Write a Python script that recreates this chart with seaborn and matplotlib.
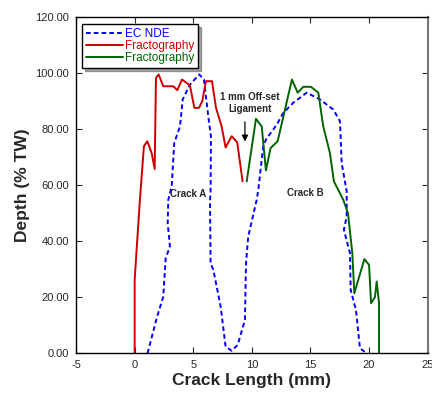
import numpy as np
import pandas as pd
import matplotlib
matplotlib.use('Agg')
import matplotlib.pyplot as plt
import seaborn as sns

# ------------------------------------------------------------
# data (crack length mm, depth % TW)
# ------------------------------------------------------------
ec_x = [1.10, 1.88, 2.44, 2.65, 3.01, 2.82, 2.87, 3.16, 3.38, 3.87, 4.10, 4.72,
        5.51, 5.91, 6.28, 6.51, 6.48, 6.43, 6.48, 6.71, 7.00, 7.34, 7.76, 8.28,
        8.79, 9.41, 9.50, 9.69, 10.41, 10.55, 10.97, 11.20, 12.12, 12.68, 13.53,
        14.68, 15.81, 16.95, 17.52, 17.66, 18.09, 18.09, 17.85, 18.37, 18.43,
        18.88, 19.22, 19.80]
ec_y = [0.0, 12.5, 20.2, 33.9, 38.1, 46.4, 54.7, 59.5, 75.0, 80.9, 90.5, 95.8,
        99.4, 97.6, 84.5, 77.4, 57.1, 54.7, 32.1, 29.8, 23.8, 16.6, 2.4, 0.9,
        3.0, 11.9, 32.1, 41.6, 54.7, 58.3, 73.8, 76.2, 81.5, 85.7, 89.3,
        92.9, 90.5, 86.9, 82.7, 67.9, 57.7, 48.8, 44.0, 35.7, 22.6,
        15.5, 1.8, 0.0]

fa_x = [0.00, 0.00, 0.17, 0.45, 0.79, 1.08, 1.45, 1.71, 1.82, 2.05, 2.44, 3.29,
        3.64, 4.04, 4.72, 5.09, 5.49, 5.77, 6.08, 6.60, 6.94, 7.42, 7.76, 8.28,
        8.75, 9.21]
fa_y = [0.0, 26.0, 37.0, 54.7, 73.8, 75.6, 71.4, 65.7, 98.2, 99.4, 95.2, 95.2,
        93.8, 97.6, 95.5, 87.5, 87.5, 89.9, 97.0, 97.0, 87.5, 80.9, 73.4, 77.4,
        75.2, 61.3]

fb_x = [9.56, 10.35, 10.84, 11.20, 11.60, 12.20, 13.42, 13.91, 14.39, 15.04,
        15.67, 16.09, 16.66, 17.00, 17.80, 18.20, 18.57, 18.74, 19.60, 20.00,
        20.17, 20.50, 20.65, 20.85, 20.85]
fb_y = [61.3, 83.6, 80.9, 65.2, 73.2, 75.6, 97.6, 92.9, 95.0, 95.0,
        92.9, 80.9, 71.4, 61.3, 54.7, 50.0, 35.7, 21.4, 33.6, 31.5,
        17.9, 20.0, 25.6, 17.9, 0.0]

x_ticks = [-5, 0, 5, 10, 15, 20, 25]
y_ticks = [0, 20, 40, 60, 80, 100, 120]

sns.set_style('ticks')
plt.rcParams['font.family'] = ['Liberation Sans', 'DejaVu Sans']

fig = plt.figure(figsize=(4.32, 3.97), dpi=100)
ax = fig.add_axes([0.176, 0.110, 0.814, 0.848])

blue = '#0000ff'
red = '#cc0000'
green = '#006400'

sns.lineplot(x=ec_x, y=ec_y, ax=ax, sort=False, estimator=None, color=blue,
             lw=1.4, dashes=False, label='EC NDE')
sns.lineplot(x=fa_x, y=fa_y, ax=ax, sort=False, estimator=None, color=red,
             lw=1.4, label='Fractography')
sns.lineplot(x=fb_x, y=fb_y, ax=ax, sort=False, estimator=None, color=green,
             lw=1.4, label='Fractography')
ax.lines[0].set_dashes([2.4, 1.6])

ax.set_xlim(-5, 25)
ax.set_ylim(0, 120)
ax.set_xticks(x_ticks)
ax.set_yticks(y_ticks)
ax.set_xticklabels([str(t) for t in x_ticks], fontsize=8)
ax.set_yticklabels([f'{t:.2f}' for t in y_ticks], fontsize=8)
ax.tick_params(direction='in', top=True, right=True, length=4, width=0.8, pad=5)
for s in ax.spines.values():
    s.set_linewidth(1.0)
    s.set_color('black')
ax.spines['right'].set_color('#777777')
ax.spines['right'].set_linewidth(1.5)

ax.set_xlabel('Crack Length (mm)', fontsize=12.5, fontweight='bold', labelpad=2)
ax.set_ylabel('Depth (% TW)', fontsize=12.5, fontweight='bold', labelpad=4)

# annotations
ax.text(4.57, 56.8, 'Crack A', fontsize=7, fontweight='bold', ha='center', va='center')
ax.text(14.53, 57.1, 'Crack B', fontsize=7, fontweight='bold', ha='center', va='center')
ax.text(9.85, 89.2, '1 mm Off-set\nLigament', fontsize=7, fontweight='bold',
        ha='center', va='center', linespacing=1.3)
ax.annotate('', xy=(9.41, 74.5), xytext=(9.41, 83.5),
            arrowprops=dict(arrowstyle='-|>', color='black', lw=0.9,
                            mutation_scale=9))

leg = ax.legend(loc='upper left', bbox_to_anchor=(0.01, 0.985), fontsize=8.5,
                frameon=True, fancybox=False, shadow=True, edgecolor='black',
                framealpha=1, handlelength=3.1, handletextpad=0.2,
                borderpad=0.35, labelspacing=0.0, borderaxespad=0.2)
leg.get_frame().set_linewidth(1.0)
for txt, c in zip(leg.get_texts(), [blue, red, green]):
    txt.set_color(c)

fig.savefig('out.png', dpi=100)
